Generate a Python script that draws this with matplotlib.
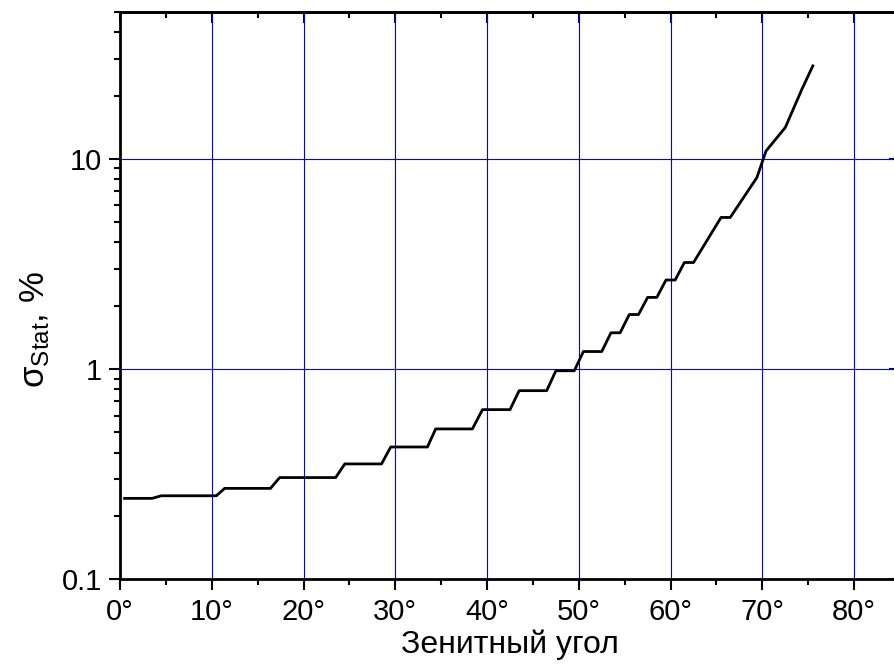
#plot.py


#COMMENT: Imports.

import numpy as np;
import matplotlib;
matplotlib.use('Agg');
import matplotlib.pyplot as plt;
from matplotlib.ticker import FixedLocator, LogLocator, NullFormatter;


#COMMENT: Data.

zenithAngle = [0.5, 3.5, 4.5, 10.5, 11.4, 16.4, 17.4, 23.5, 24.5, 28.5, 29.5, 33.5, 34.4, 38.4,
               39.5, 42.5, 43.5, 46.5, 47.5, 49.5, 50.5, 52.5, 53.5, 54.5, 55.5, 56.5, 57.5,
               58.5, 59.5, 60.5, 61.5, 62.5, 65.5, 66.5, 69.4, 70.4, 72.5, 74.3, 75.5];
sigmaStat = [0.242, 0.242, 0.249, 0.249, 0.270, 0.270, 0.304, 0.304, 0.353, 0.353, 0.425, 0.425,
             0.518, 0.518, 0.640, 0.640, 0.788, 0.788, 0.98, 0.98, 1.21, 1.21, 1.486, 1.486,
             1.815, 1.815, 2.19, 2.19, 2.65, 2.65, 3.21, 3.21, 5.26, 5.26, 8.14, 10.9, 14.1,
             21.4, 27.7];

xTicks = [0, 10, 20, 30, 40, 50, 60, 70, 80];
xTickLabels = ['0°', '10°', '20°', '30°', '40°', '50°', '60°', '70°', '80°'];
yTicks = [0.1, 1, 10];
yTickLabels = ['0.1', '1', '10'];


#COMMENT: Fonts (Arial look-alike). Subscripts use the regular text font.

plt.rcParams['font.family'] = ['Liberation Sans', 'DejaVu Sans'];
plt.rcParams['mathtext.default'] = 'regular';


#COMMENT: Figure and axes. The right edge of the axes sits just past the canvas, as in the reference.

fig = plt.figure(figsize = (8.94, 6.70), dpi = 100);
ax = fig.add_axes([120 / 894, 1 - 579 / 670, 780 / 894, 567 / 670]);

ax.plot(zenithAngle, sigmaStat, color = 'black', linewidth = 2.0, zorder = 3);

ax.set_yscale('log');
ax.set_xlim(0, 85);
ax.set_ylim(0.1, 50);

ax.xaxis.set_major_locator(FixedLocator(xTicks));
ax.set_xticklabels(xTickLabels);
ax.xaxis.set_minor_locator(FixedLocator(np.arange(5, 85, 10)));
ax.yaxis.set_major_locator(FixedLocator(yTicks));
ax.set_yticklabels(yTickLabels);
ax.yaxis.set_minor_locator(LogLocator(base = 10, subs = np.arange(2, 10)));
ax.yaxis.set_minor_formatter(NullFormatter());

#COMMENT: Blue grid at the major ticks.

for xv in xTicks[1:]:
    ax.axvline(xv, color = '#0000ff', linewidth = 0.8, zorder = 1);
for yv in yTicks[1:]:
    ax.axhline(yv, color = '#0000ff', linewidth = 0.8, zorder = 1);

#COMMENT: Bottom and left ticks point outwards.

ax.tick_params(axis = 'both', which = 'major', direction = 'out', length = 8, width = 1.5,
               labelsize = 21, top = False, right = False);
ax.tick_params(axis = 'both', which = 'minor', direction = 'out', length = 4.5, width = 1.5,
               top = False, right = False);
ax.tick_params(axis = 'x', which = 'major', pad = 6);
ax.tick_params(axis = 'y', which = 'major', pad = 5);

for side in ['top', 'bottom', 'left', 'right']:
    ax.spines[side].set_linewidth(2.0);

#COMMENT: Top and right ticks point inwards (secondary axes, no labels).

topAx = ax.secondary_xaxis('top');
topAx.xaxis.set_major_locator(FixedLocator(xTicks));
topAx.xaxis.set_minor_locator(FixedLocator(np.arange(5, 85, 10)));
topAx.tick_params(which = 'major', direction = 'in', length = 8, width = 1.5, labeltop = False);
topAx.tick_params(which = 'minor', direction = 'in', length = 4.5, width = 1.5);
topAx.spines['top'].set_linewidth(2.0);

rightAx = ax.secondary_yaxis('right');
rightAx.yaxis.set_major_locator(FixedLocator(yTicks));
rightAx.yaxis.set_minor_locator(LogLocator(base = 10, subs = np.arange(2, 10)));
rightAx.yaxis.set_minor_formatter(NullFormatter());
rightAx.tick_params(which = 'major', direction = 'in', length = 8, width = 1.5, labelright = False);
rightAx.tick_params(which = 'minor', direction = 'in', length = 4.5, width = 1.5);
rightAx.spines['right'].set_linewidth(2.0);

#COMMENT: Axis labels.

ax.set_xlabel('Зенитный угол', fontsize = 23, labelpad = 2);
ax.set_ylabel('σ$_{Stat}$, %', fontsize = 25);
ax.yaxis.set_label_coords(-0.087, 0.44);

#COMMENT: Save the image and clean up.

plt.savefig('out.png', format = 'png', dpi = 100);
plt.close();
